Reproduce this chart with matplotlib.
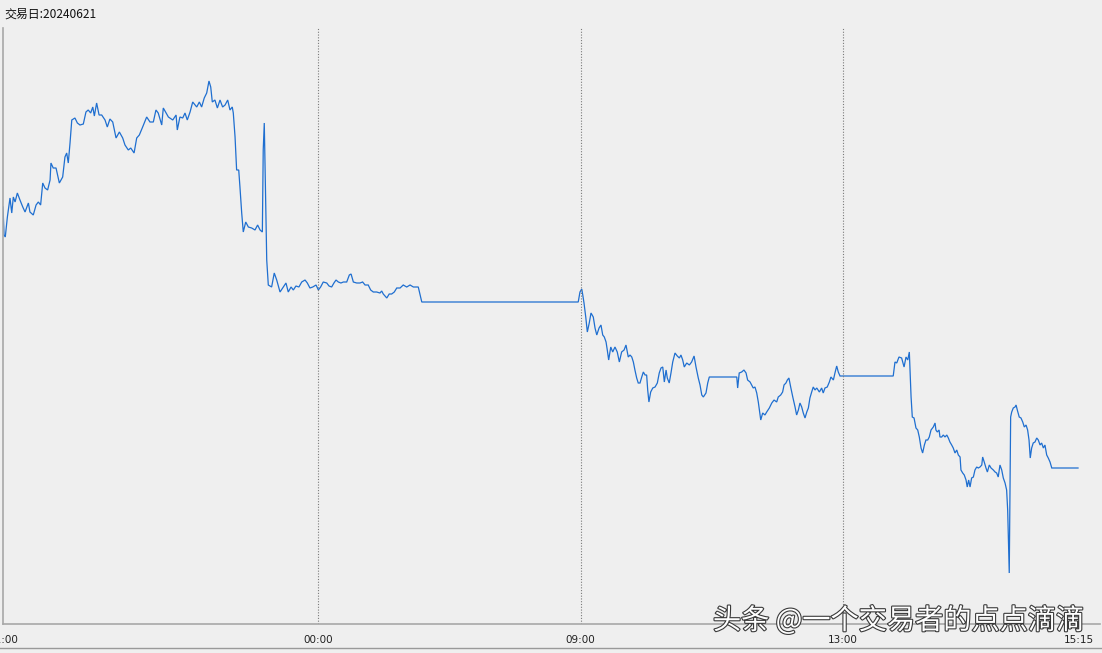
import matplotlib
matplotlib.use("Agg")
import matplotlib.pyplot as plt
import matplotlib.patheffects as pe
from matplotlib.lines import Line2D

plt.rcParams['font.family'] = ['Noto Sans CJK SC', 'DejaVu Sans']

# trading day and axis labels
trade_day = "20240621"
tick_minutes = [0, 180, 330, 480, 615]
tick_labels = ["21:00", "00:00", "09:00", "13:00", "15:15"]
session_lines = [180, 330, 480]

# minutes since 21:00 on the compressed trading-time axis
minutes = [
    0, 0.6, 1.3, 2.5, 4, 5, 5.9, 6.9, 8.2, 9.7, 11.3, 12.6, 14.5, 15.4, 17.3, 18.9,
    20.2, 21.5, 22.7, 24, 25.5, 26.9, 27.4, 28.7, 30.3, 32.2, 34.1, 35.4, 36.4, 37.3,
    38.3, 39.3, 41.1, 42.5, 44, 45.9, 47.4, 48.7, 50.1, 51.3, 52.2, 53.5, 54.9, 56.4,
    58.3, 59.6, 61.1, 62.7, 64.6, 66.5, 68.4, 69.7, 71.6, 73, 74.9, 76.4, 77.9, 79.8,
    82.1, 84, 85.9, 87.4, 88.7, 90.7, 91.6, 94.5, 97, 98.9, 99.6, 101.1, 102.7, 104,
    105.3, 106.9, 108.4, 110.7, 112.2, 113.5, 115, 116.4, 117.7, 118.7, 119.6, 121.1,
    122.5, 124, 125.5, 126.9, 128.4, 129.7, 131, 131.6, 132.6, 133.5, 134.7, 135.4,
    136.4, 137.3, 138.7, 140.2, 142.1, 144, 145.5, 146.9, 148.2, 148.7, 149.3, 150.1,
    150.7, 151.6, 153.5, 155, 156.4, 158.3, 160.2, 161.7, 163, 164.6, 165.9, 167.4,
    169.1, 170.7, 172.6, 173.9, 175.4, 177, 178.9, 180.2, 181.5, 183, 185, 186.3,
    187.8, 189.1, 190.3, 191.6, 193.1, 194.5, 196.4, 197.9, 198.9, 200.2, 202.1, 204,
    205.5, 206.9, 208.7, 210.1, 211.6, 213.5, 215.4, 216.4, 217.3, 219.3, 220.7, 222.1,
    223.6, 225, 226.9, 228.7, 230.7, 232.6, 234.5, 237.3, 239.3, 328.7,
    329.7, 330.7, 331.3, 332, 333, 333.9, 335, 336, 337.3, 338.3, 339.3, 340.6, 341.7,
    342.7, 343.6, 344.6, 345.3, 346.1, 347.3, 348.4, 349.7, 351, 352.2, 353.5, 354.9,
    356, 357.3, 358.3, 359.3, 360.2, 361.1, 362.1, 363, 364, 365, 365.9, 366.9, 367.8,
    368.4, 369.1, 370.1, 371.3, 372.6, 373.9, 375, 376, 377, 377.9, 378.9, 379.6,
    380.7, 381.7, 382.7, 384, 385.3, 386.5, 387.4, 388.4, 389.3, 390.7, 392.2, 393.5,
    394.9, 396, 397.3, 398.3, 399.3, 400.2, 401.7, 402.7, 403.6, 419.3,
    419.8, 420.7, 422.1, 423.4, 424.6, 425.5, 426.9, 427.8, 428.7, 429.7, 430.7, 431.6,
    432.2, 433, 434.1, 435.4, 436.4, 437.9, 439.3, 440.6, 442.1, 443, 444.4, 445.5,
    446.3, 447.4, 448.2, 449.1, 450.1, 451.3, 452.6, 453.5, 454.5, 455.4, 456.4, 457.3,
    458.3, 459.3, 460.2, 461.1, 462.1, 463, 464, 465, 466.5, 467.8, 468.7, 469.7, 471,
    472.2, 473.1, 474.5, 475.4, 476.4, 477.3, 478.3, 508.7,
    509.7, 510.7, 512, 513.5, 514.9, 516, 517, 517.9, 518.3, 518.9, 519.6, 520.6, 521.7,
    522.7, 523.6, 524.6, 525.5, 526.5, 527.4, 528.4, 529.3, 530.3, 531.6, 532.6, 533.1,
    533.9, 534.9, 535.4, 536.4, 537.3, 538.3, 539.3, 540.2, 541.1, 542.1, 543, 544, 545,
    545.9, 546.9, 547.4, 548.4, 549.3, 550.3, 551, 551.8, 552.6, 553.5, 554.5, 555.4,
    556.4, 557.3, 558.3, 559.3, 559.8, 560.7, 561.7, 562.5, 563.6, 564.6, 565.9, 566.9,
    567.8, 568.7, 569.7, 570.7, 571.6, 572.6, 573.5, 574.1, 574.7, 575, 575.4, 575.8,
    576.4, 577.3, 578.3, 578.9, 579.6, 580.7, 581.7, 582.7, 583.6, 584.6, 585.5, 586.3,
    587, 587.8, 588.7, 589.7, 590.7, 591.6, 592.6, 593.5, 594.5, 595.4, 596.4, 597.3,
    598.3, 599.3, 614.3,
]

# price level (relative points)
values = [
    417, 389, 387, 407, 426, 411, 427, 422, 431, 424, 417, 412, 421, 412, 409, 419,
    422, 419, 441, 436, 434, 444, 461, 456, 456, 441, 447, 467, 471, 461,
    481, 504, 506, 501, 499, 500, 512, 514, 511, 517, 508, 521, 509, 509,
    504, 497, 505, 502, 486, 492, 486, 479, 474, 476, 471, 486, 489, 497,
    507, 502, 502, 514, 511, 499, 516, 507, 504, 509, 494, 507, 506, 511,
    504, 512, 522, 517, 522, 517, 526, 531, 543, 537, 522, 524,
    516, 524, 517, 519, 524, 514, 517, 511, 487, 454, 454, 437,
    411, 392, 402, 397, 396, 394, 399, 394, 392, 474, 501, 421,
    364, 339, 337, 351, 344, 332, 337, 341, 332, 337, 334, 338,
    337, 342, 344, 341, 336, 337, 339, 334, 337, 342, 341, 338,
    337, 341, 344, 342, 341, 342, 342, 349, 350, 342, 341, 341,
    342, 339, 339, 334, 332, 332, 331, 333, 330, 326, 330, 330,
    332, 336, 336, 339, 337, 339, 337, 337, 322, 322,
    332, 335, 329, 321, 307, 292, 301, 311, 307, 296, 289, 296, 299,
    289, 287, 282, 274, 264, 277, 272, 277, 272, 262, 272, 274,
    279, 267, 269, 267, 262, 254, 246, 241, 241, 247, 252, 249, 249,
    234, 222, 232, 236, 237, 241, 251, 256, 257, 242, 254, 246,
    241, 251, 262, 271, 268, 266, 269, 264, 257, 261, 259, 262,
    268, 257, 246, 239, 229, 227, 231, 241, 247, 247,
    236, 251, 252, 254, 251, 244, 242, 239, 236, 237, 231, 222,
    214, 204, 211, 209, 212, 216, 221, 224, 222, 227, 229, 232,
    239, 241, 244, 246, 237, 227, 217, 209, 214, 221, 217, 211,
    206, 212, 216, 226, 232, 237, 234, 236, 232, 236, 231, 236, 237,
    242, 247, 244, 251, 258, 252, 248, 248,
    262, 261, 267, 266, 257, 267, 264, 272, 254, 227, 207, 206, 196,
    194, 187, 176, 171, 179, 184, 184, 187, 194, 197, 201, 194,
    192, 194, 187, 187, 189, 187, 189, 186, 182, 179, 176, 171, 174,
    169, 167, 154, 151, 149, 144, 137, 144, 137, 146, 147, 154,
    157, 156, 157, 159, 167, 162, 156, 152, 159, 156, 154, 152,
    151, 147, 159, 154, 146, 141, 134, 114, 74, 51, 131, 207,
    212, 216, 217, 219, 214, 207, 206, 202, 197, 199, 194, 184,
    166, 176, 181, 182, 186, 184, 179, 181, 176, 179, 169, 166,
    162, 156, 156,
]

W, H = 1102, 653
bg = '#efefef'
fig = plt.figure(figsize=(W / 100, H / 100), dpi=100, facecolor=bg)
ax = fig.add_axes([3 / W, (H - 624) / H, (1100 - 3) / W, (624 - 28) / H])
ax.set_facecolor(bg)

ax.plot(minutes, values, color='#1f6fd0', lw=0.9, solid_joinstyle='miter')

for m in session_lines:
    ax.axvline(m, color='#7a7a7a', lw=0.8, linestyle=(0, (1, 1.5)))

ax.set_xlim(0, (1100 - 3) / 1.75)
ax.set_ylim(0, 596)
ax.set_yticks([])
ax.set_xticks(tick_minutes)
ax.set_xticklabels(tick_labels, fontsize=7.5, color='#222222', family=['DejaVu Sans'])
ax.tick_params(axis='x', length=0, pad=8)
for s in ['top', 'right']:
    ax.spines[s].set_visible(False)
for s in ['left', 'bottom']:
    ax.spines[s].set_color('#a8a8a8')
    ax.spines[s].set_linewidth(1.2)

fig.text(4 / W, 1 - 14 / H, "交易日:" + trade_day, fontsize=8.6, color='#111111', va='center', ha='left')

# bottom window frame line
fig.add_artist(Line2D([0, 1], [1 - 648 / H, 1 - 648 / H], color='#999999', lw=1.0))

wm = fig.text(899 / W, 1 - 621 / H, "头条 @一个交易者的点点滴滴", fontsize=20.3, color='white',
              ha='center', va='center')
wm.set_path_effects([pe.withStroke(linewidth=1.6, foreground='#3a3a3a')])

fig.savefig("out.png", dpi=100, facecolor=bg)
